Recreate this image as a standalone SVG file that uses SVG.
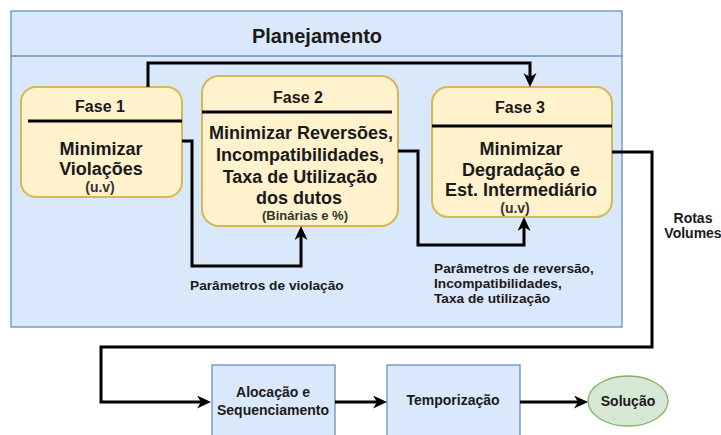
<svg xmlns="http://www.w3.org/2000/svg" width="721" height="435" viewBox="0 0 721 435">
<style>
text{font-family:"Liberation Sans",Arial,sans-serif;font-weight:bold;fill:#1a1a1a}
.c{text-anchor:middle}
.t1{font-size:20px}
.t2{font-size:16px}
.t3{font-size:18px}
.sm{font-size:14px;fill:#333}
.lb{font-size:14px}
.lb2{font-size:13.7px}
.fase{fill:#fff2cc;stroke:#d6b656;stroke-width:2}
.blue{fill:#dae8fc;stroke:#6c8ebf;stroke-width:1.3}
.div{stroke:#000;stroke-width:3}
.edge{fill:none;stroke:#000;stroke-width:3}
</style>
<defs>
<marker id="arr" markerUnits="userSpaceOnUse" markerWidth="16" markerHeight="14" refX="4" refY="6.5" orient="auto">
<path d="M0,0 L14,6.5 L0,13 L4,6.5 Z" fill="#000"/>
</marker>
</defs>
<g id="planejamento">
<rect class="blue" x="11" y="11" width="611" height="316"/>
<line x1="11" y1="56" x2="622" y2="56" stroke="#6c8ebf" stroke-width="1.3"/>
<text class="c t1" x="317" y="43">Planejamento</text>
</g>
<g id="fase1">
<rect class="fase" x="21" y="87" width="161" height="110" rx="15"/>
<line class="div" x1="28" y1="121" x2="182" y2="121"/>
<text class="c t2" x="100" y="112">Fase 1</text>
<text class="c t3" x="101" y="155">Minimizar</text>
<text class="c t3" x="101" y="175">Violações</text>
<text class="c sm" x="100" y="192">(u.v)</text>
</g>
<g id="fase2">
<rect class="fase" x="202" y="76" width="196" height="150" rx="17"/>
<line class="div" x1="202" y1="112" x2="392" y2="112"/>
<text class="c t2" x="298" y="103">Fase 2</text>
<text class="c t3" x="301" y="139">Minimizar Reversões,</text>
<text class="c t3" x="300" y="161">Incompatibilidades,</text>
<text class="c t3" x="300" y="183">Taxa de Utilização</text>
<text class="c t3" x="299" y="204">dos dutos</text>
<text class="c sm" x="305" y="220" style="font-size:13px">(Binárias e %)</text>
</g>
<g id="fase3">
<rect class="fase" x="432" y="87" width="180" height="130" rx="16"/>
<line class="div" x1="432" y1="126" x2="612" y2="126"/>
<text class="c t2" x="520" y="113">Fase 3</text>
<text class="c t3" x="521" y="155">Minimizar</text>
<text class="c t3" x="521" y="176">Degradação e</text>
<text class="c t3" x="521" y="196">Est. Intermediário</text>
<text class="c sm" x="515" y="213">(u.v)</text>
</g>
<g id="alocacao">
<rect class="blue" x="212" y="365" width="123" height="80"/>
<text class="c lb" x="273" y="397">Alocação e</text>
<text class="c lb" x="273" y="415">Sequenciamento</text>
</g>
<g id="temporizacao">
<rect class="blue" x="387" y="365" width="133" height="80"/>
<text class="c lb" x="453" y="405">Temporização</text>
</g>
<g id="solucao">
<ellipse cx="628" cy="401" rx="40" ry="25" fill="#d5e8d4" stroke="#82b366" stroke-width="1.3"/>
<text class="c lb" x="628" y="406">Solução</text>
</g>
<g id="connectors">
<path class="edge" d="M148,87 V63 H530 V77" marker-end="url(#arr)"/>
<path class="edge" d="M182,141 H192 V266 H301 V236" marker-end="url(#arr)"/>
<path class="edge" d="M398,151 H418 V245 H524 V227" marker-end="url(#arr)"/>
<path class="edge" d="M612,152 H652 V347 H101 V402 H201" marker-end="url(#arr)"/>
<path class="edge" d="M335,402 H377" marker-end="url(#arr)"/>
<path class="edge" d="M520,402 H578" marker-end="url(#arr)"/>
</g>
<g id="labels">
<text class="lb2" x="190" y="290">Parâmetros de violação</text>
<text class="lb2" x="434" y="273">Parâmetros de reversão,</text>
<text class="lb2" x="434" y="288">Incompatibilidades,</text>
<text class="lb2" x="434" y="303">Taxa de utilização</text>
<text class="c lb" x="693" y="223">Rotas</text>
<text class="c lb" x="693" y="238">Volumes</text>
</g>
</svg>
